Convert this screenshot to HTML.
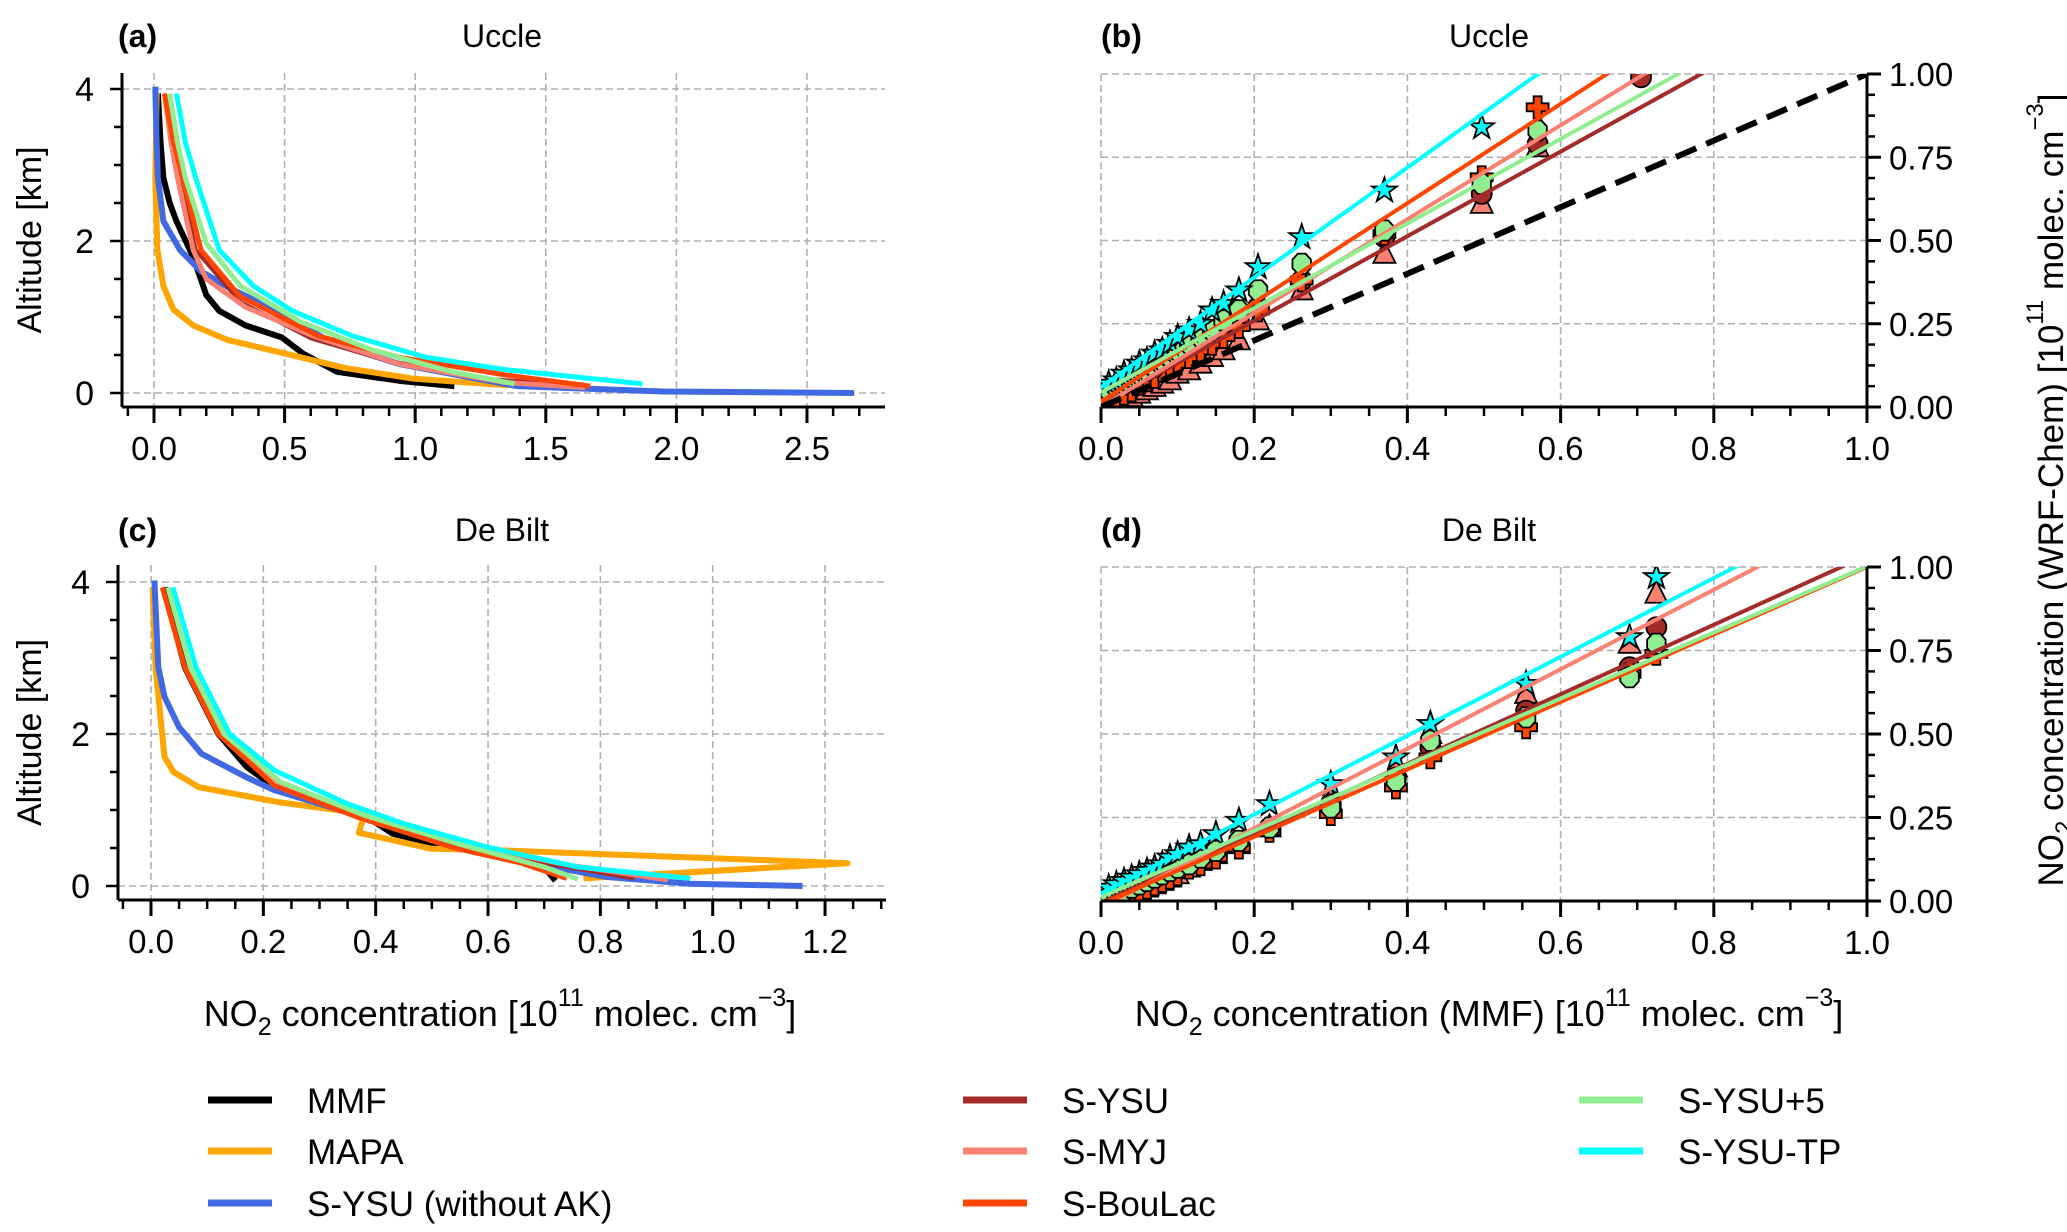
<!DOCTYPE html>
<html><head><meta charset="utf-8">
<style>
html,body{margin:0;padding:0;background:#fff;}
svg{display:block;}
text{font-family:"Liberation Sans",sans-serif;fill:#000;}
.reg{font-family:"Liberation Sans",sans-serif;}
</style></head>
<body>
<svg id="fig" width="2067" height="1232" viewBox="0 0 2067 1232" xmlns="http://www.w3.org/2000/svg">
<defs>
<clipPath id="clipB"><rect x="1101" y="74" width="766" height="333"/></clipPath>
<clipPath id="clipD"><rect x="1101" y="567" width="766" height="334"/></clipPath>
</defs>
<g id="layer"></g>
</svg>
<script>
// ---------- DATA ----------
const seriesNames = ["MMF","MAPA","S-YSU (without AK)","S-YSU","S-MYJ","S-BouLac","S-YSU+5","S-YSU-TP"];
const seriesColors = ["#000000","#ffa500","#4169e1","#a52a2a","#fa8072","#ff4500","#90ee90","#00ffff"];
// Panel (a) Uccle profiles: [value, altitude]
const uccleMMF = [[0.015,3.94],[0.025,3.3],[0.036,2.83],[0.06,2.5],[0.086,2.26],[0.15,1.79],[0.2,1.29],[0.25,1.08],[0.35,0.89],[0.49,0.73],[0.57,0.52],[0.7,0.28],[0.94,0.16],[1.15,0.09]];
const uccleMAPA = [[0.01,3.94],[0.005,2.83],[0.013,1.88],[0.036,1.41],[0.074,1.1],[0.15,0.89],[0.28,0.7],[0.5,0.52],[0.73,0.33],[0.99,0.19],[1.36,0.1]];
const uccleNoAK = [[0.005,4.03],[0.01,3.3],[0.015,2.83],[0.036,2.26],[0.1,1.88],[0.18,1.6],[0.3,1.36],[0.5,1.03],[0.68,0.66],[0.94,0.38],[1.39,0.09],[1.95,0.02],[2.68,0.0]];
const uccleYSU = [[0.04,3.94],[0.07,3.3],[0.1,2.83],[0.16,1.88],[0.33,1.2],[0.6,0.72],[0.9,0.42],[1.3,0.18],[1.62,0.1]];
const uccleMYJ = [[0.04,3.94],[0.065,3.3],[0.09,2.83],[0.15,1.88],[0.2,1.5],[0.35,1.13],[0.61,0.75],[0.94,0.38],[1.34,0.14],[1.65,0.07]];
const uccleBouLac = [[0.04,3.94],[0.075,3.3],[0.11,2.83],[0.18,1.88],[0.33,1.27],[0.63,0.75],[0.94,0.47],[1.34,0.24],[1.67,0.09]];
const uccleYSU5 = [[0.06,3.94],[0.09,3.3],[0.12,2.83],[0.2,1.97],[0.33,1.41],[0.56,0.94],[0.84,0.56],[1.14,0.28],[1.38,0.12]];
const uccleTP = [[0.086,3.94],[0.12,3.3],[0.16,2.83],[0.25,1.88],[0.38,1.41],[0.53,1.08],[0.76,0.75],[1.04,0.47],[1.34,0.31],[1.87,0.12]];
// Panel (c) De Bilt profiles
const debiltMMF = [[0.024,3.93],[0.06,2.88],[0.12,2.0],[0.17,1.57],[0.22,1.3],[0.31,1.08],[0.38,0.93],[0.43,0.69],[0.5,0.56],[0.6,0.43],[0.69,0.34],[0.72,0.07]];
const debiltMAPA = [[0.003,3.93],[0.008,2.88],[0.024,1.7],[0.04,1.5],[0.085,1.3],[0.23,1.1],[0.38,0.95],[0.37,0.7],[0.5,0.49],[0.62,0.47],[1.24,0.3],[0.77,0.1]];
const debiltNoAK = [[0.006,4.02],[0.013,2.88],[0.024,2.49],[0.05,2.09],[0.09,1.74],[0.17,1.43],[0.22,1.26],[0.35,0.97],[0.5,0.64],[0.65,0.34],[0.81,0.12],[0.96,0.03],[1.16,0.0]];
const debiltYSU = [[0.03,3.93],[0.07,2.88],[0.13,2.0],[0.23,1.35],[0.38,0.92],[0.55,0.55],[0.7,0.3],[0.86,0.1]];
const debiltMYJ = [[0.03,3.93],[0.07,2.88],[0.13,2.0],[0.23,1.35],[0.38,0.93],[0.56,0.55],[0.74,0.28],[0.92,0.08]];
const debiltBouLac = [[0.02,3.93],[0.06,2.88],[0.12,2.0],[0.22,1.32],[0.37,0.9],[0.54,0.5],[0.66,0.3],[0.74,0.1]];
const debiltYSU5 = [[0.03,3.93],[0.07,2.88],[0.13,2.0],[0.23,1.37],[0.38,0.93],[0.55,0.55],[0.7,0.25],[0.76,0.09]];
const debiltTP = [[0.039,3.93],[0.08,2.88],[0.14,2.0],[0.22,1.52],[0.35,1.08],[0.45,0.82],[0.6,0.51],[0.76,0.25],[0.96,0.1]];
// Panel (b) Uccle scatter
const uccleX = [0.01,0.02,0.03,0.04,0.05,0.06,0.07,0.08,0.09,0.1,0.115,0.13,0.145,0.16,0.18,0.205,0.262,0.37,0.497,0.57,0.705];
const uccleScYSU = [0.02,0.03,0.05,0.06,0.08,0.09,0.1,0.12,0.13,0.15,0.17,0.19,0.21,0.23,0.26,0.3,0.38,0.51,0.64,0.79,0.99];
const uccleScMYJ = [0.0,0.01,0.02,0.03,0.04,0.05,0.06,0.07,0.08,0.1,0.11,0.13,0.15,0.17,0.2,0.26,0.35,0.46,0.61,0.78,null];
const uccleScBouLac = [0.02,0.03,0.04,0.05,0.07,0.08,0.09,0.11,0.12,0.13,0.15,0.17,0.19,0.21,0.24,0.29,0.38,0.52,0.69,0.9,null];
const uccleScYSU5 = [0.05,0.06,0.07,0.09,0.1,0.11,0.12,0.14,0.15,0.17,0.19,0.21,0.23,0.26,0.29,0.35,0.43,0.53,0.67,0.83,null];
const uccleScTP = [0.07,0.08,0.1,0.11,0.13,0.14,0.16,0.17,0.19,0.21,0.23,0.25,0.29,0.31,0.35,0.42,0.51,0.65,0.84,null,null];
const uccleSlope = [1.27,1.41,1.49,1.27,1.65];
const uccleIntercept = [0.005,0.0,0.016,0.043,0.059];
// Panel (d) De Bilt scatter
const debiltX = [0.01,0.02,0.03,0.04,0.05,0.06,0.07,0.08,0.09,0.1,0.115,0.13,0.15,0.18,0.22,0.30,0.385,0.43,0.555,0.69,0.725];
const debiltScYSU = [0.01,0.02,0.03,0.04,0.05,0.06,0.07,0.08,0.09,0.1,0.12,0.13,0.15,0.18,0.22,0.29,0.37,0.46,0.57,0.7,0.82];
const debiltScMYJ = [0.0,0.0,0.01,0.02,0.03,0.04,0.05,0.06,0.07,0.08,0.1,0.12,0.14,0.17,0.22,0.3,0.4,0.5,0.62,0.77,0.92];
const debiltScBouLac = [0.0,0.0,0.01,0.02,0.03,0.04,0.05,0.06,0.07,0.08,0.1,0.11,0.13,0.16,0.21,0.26,0.34,0.43,0.52,0.68,0.74];
const debiltScYSU5 = [0.01,0.02,0.03,0.04,0.05,0.06,0.07,0.08,0.09,0.1,0.11,0.13,0.15,0.18,0.22,0.28,0.36,0.48,0.55,0.67,0.77];
const debiltScTP = [0.04,0.05,0.06,0.07,0.08,0.09,0.1,0.11,0.13,0.14,0.16,0.17,0.2,0.24,0.29,0.35,0.43,0.53,0.65,0.79,0.97];
const debiltSlope = [1.04,1.19,1.01,0.99,1.18];
const debiltIntercept = [-0.005,-0.02,-0.01,0.012,0.023];
const xTicksA = [0,0.5,1.0,1.5,2.0,2.5];
const xTicksC = [0,0.2,0.4,0.6,0.8,1.0,1.2];
const yTicksAlt = [0,2,4];
const xTicksScatter = [0,0.2,0.4,0.6,0.8,1.0];
const yTicksScatter = [0,0.25,0.5,0.75,1.0];

// ---------- HELPERS ----------
const NS="http://www.w3.org/2000/svg";
const layer=document.getElementById('layer');
function mk(tag,attrs,parent){const e=document.createElementNS(NS,tag);for(const k in attrs)e.setAttribute(k,attrs[k]);(parent||layer).appendChild(e);return e;}
function txt(x,y,s,size,anchor,cls,parent){const t=mk('text',{x:x,y:y,'font-size':size,'text-anchor':anchor||'middle'},parent);if(cls)t.setAttribute('class',cls);t.textContent=s;return t;}
const GRID={stroke:'#b0b0b0','stroke-width':1.6,'stroke-dasharray':'7,4'};

// ---------- PROFILE PANELS ----------
function profilePanel(id,cfg,ticks,minorStep,profiles){
  const g=mk('g',{});
  
  
  const xs=v=>cfg.x0+v*cfg.kx, ys=v=>cfg.y0-v*cfg.ky;
  ticks.forEach(t=>{const l=mk('line',Object.assign({x1:xs(t),x2:xs(t),y1:cfg.top,y2:cfg.bottom},GRID),g);});
  yTicksAlt.forEach(t=>{const l=mk('line',Object.assign({x1:cfg.left,x2:cfg.right,y1:ys(t),y2:ys(t)},GRID),g);});
  profiles.forEach((p,i)=>{
    const pl=mk('polyline',{points:p.map(d=>xs(d[0])+','+ys(d[1])).join(' '),fill:'none',stroke:seriesColors[i],'stroke-width':i<3?6:(i==3?4:5),'stroke-linejoin':'round'},g);
    
    
  });
  const sp1=mk('line',{x1:cfg.left,x2:cfg.left,y1:cfg.top,y2:cfg.bottom,stroke:'#000','stroke-width':3},g);
  
  const sp2=mk('line',{x1:cfg.left,x2:cfg.right,y1:cfg.bottom,y2:cfg.bottom,stroke:'#000','stroke-width':3},g);
  
  const vmin=(cfg.left-cfg.x0)/cfg.kx, vmax=(cfg.right-cfg.x0)/cfg.kx;
  for(let v=Math.ceil(vmin/minorStep-1e-6)*minorStep; v<=vmax+1e-6; v+=minorStep){
    mk('line',{x1:xs(v),x2:xs(v),y1:cfg.bottom,y2:cfg.bottom+9,stroke:'#000','stroke-width':2.5},g);
  }
  ticks.forEach(t=>{mk('line',{x1:xs(t),x2:xs(t),y1:cfg.bottom,y2:cfg.bottom+16,stroke:'#000','stroke-width':3},g);
    const l=txt(xs(t),cfg.bottom+53,t.toFixed(1),33,'middle',null,g);});
  for(let v=0; v<=4.0001; v+=0.5){mk('line',{x1:cfg.left-(v%2==0?12:8),x2:cfg.left,y1:ys(v),y2:ys(v),stroke:'#000','stroke-width':2.5},g);}
  yTicksAlt.forEach(t=>{const l=txt(cfg.left-28,ys(t)+12,String(t),34,'end',null,g);});
  const yl=txt(0,0,'Altitude [km]',34,'middle','reg',g);
  yl.setAttribute('transform','translate(41,'+((cfg.top+cfg.bottom)/2)+') rotate(-90)');
  
}
profilePanel('panel-a-uccle-profiles',{x0:154,kx:261.2,y0:393,ky:76,left:122,right:885,top:73,bottom:407},xTicksA,0.1,
  [uccleMMF,uccleMAPA,uccleNoAK,uccleYSU,uccleMYJ,uccleBouLac,uccleYSU5,uccleTP]);
profilePanel('panel-c-debilt-profiles',{x0:151,kx:561.7,y0:886,ky:76,left:118,right:886,top:565,bottom:900},xTicksC,0.05,
  [debiltMMF,debiltMAPA,debiltNoAK,debiltYSU,debiltMYJ,debiltBouLac,debiltYSU5,debiltTP]);

// ---------- SCATTER PANELS ----------
function marker(g,type,cx,cy,color){
  let e;
  if(type==='circle'){e=mk('circle',{cx:cx,cy:cy,r:10},g);}
  else if(type==='tri'){e=mk('polygon',{points:`${cx},${cy-13} ${cx+11},${cy+9} ${cx-11},${cy+9}`},g);}
  else if(type==='plus'){const a=4,b=11;e=mk('polygon',{points:`${cx-a},${cy-b} ${cx+a},${cy-b} ${cx+a},${cy-a} ${cx+b},${cy-a} ${cx+b},${cy+a} ${cx+a},${cy+a} ${cx+a},${cy+b} ${cx-a},${cy+b} ${cx-a},${cy+a} ${cx-b},${cy+a} ${cx-b},${cy-a} ${cx-a},${cy-a}`},g);}
  else if(type==='oct'){let p=[];for(let k=0;k<8;k++){const an=Math.PI/8+k*Math.PI/4;p.push((cx+10*Math.cos(an))+','+(cy+11*Math.sin(an)));}e=mk('polygon',{points:p.join(' ')},g);}
  else {let p=[];for(let k=0;k<10;k++){const r=k%2?5:13;const an=-Math.PI/2+k*Math.PI/5;p.push((cx+r*Math.cos(an))+','+(cy+r*Math.sin(an)));}e=mk('polygon',{points:p.join(' ')},g);}
  e.setAttribute('fill',color);e.setAttribute('stroke','#000');e.setAttribute('stroke-width',1.8);
  return e;
}
function scatterPanel(id,cfg,X,series,slopes,ints,clip,dashed){
  const g=mk('g',{});
  
  
  const xs=v=>cfg.x0+v*cfg.kx, ys=v=>cfg.y0-v*cfg.ky;
  xTicksScatter.forEach(t=>{if(t<1){const l=mk('line',Object.assign({x1:xs(t),x2:xs(t),y1:ys(1),y2:cfg.y0},GRID),g);}});
  yTicksScatter.forEach(t=>{if(t>0){const l=mk('line',Object.assign({x1:xs(0),x2:xs(1),y1:ys(t),y2:ys(t)},GRID),g);}});
  const cg=mk('g',{'clip-path':'url(#'+clip+')'},g);
  const types=['circle','tri','plus','oct','star'];
  const cols=[seriesColors[3],seriesColors[4],seriesColors[5],seriesColors[6],seriesColors[7]];
  [1,0,2,3,4].forEach(s=>{
    series[s].forEach((v,i)=>{ if(v===null)return; const m=marker(cg,types[s],xs(X[i]),ys(v),cols[s]);
      
      });
  });
  slopes.forEach((s,i)=>{const l=mk('line',{x1:xs(0),y1:ys(ints[i]),x2:xs(1),y2:ys(ints[i]+s),stroke:cols[i],'stroke-width':4},cg);
    });
  if(dashed){const l=mk('line',{x1:xs(0),y1:ys(0),x2:xs(1),y2:ys(1),stroke:'#000','stroke-width':6,'stroke-dasharray':'22,11'},cg);
    }
  const sp1=mk('line',{x1:xs(0),x2:xs(1)+1.5,y1:cfg.y0,y2:cfg.y0,stroke:'#000','stroke-width':3},g);
  
  const sp2=mk('line',{x1:xs(1),x2:xs(1),y1:ys(1),y2:cfg.y0,stroke:'#000','stroke-width':3},g);
  
  for(let k=0;k<=20;k++){const v=k*0.05;mk('line',{x1:xs(v),x2:xs(v),y1:cfg.y0,y2:cfg.y0+(k%4==0?16:9),stroke:'#000','stroke-width':k%4==0?3:2.5},g);}
  for(let k=0;k<=16;k++){const v=k/16;mk('line',{x1:xs(1),x2:xs(1)+(k%4==0?14:8),y1:ys(v),y2:ys(v),stroke:'#000','stroke-width':k%4==0?3:2.5},g);}
  xTicksScatter.forEach(t=>{const l=txt(xs(t),cfg.y0+53,t.toFixed(1),33,'middle',null,g);});
  yTicksScatter.forEach(t=>{const l=txt(xs(1)+22,ys(t)+12,t.toFixed(2),33,'start',null,g);});
}
scatterPanel('panel-b-uccle-scatter',{x0:1101,kx:766,y0:407,ky:333},uccleX,[uccleScYSU,uccleScMYJ,uccleScBouLac,uccleScYSU5,uccleScTP],uccleSlope,uccleIntercept,'clipB',true);
scatterPanel('panel-d-debilt-scatter',{x0:1101,kx:766,y0:901,ky:334},debiltX,[debiltScYSU,debiltScMYJ,debiltScBouLac,debiltScYSU5,debiltScTP],debiltSlope,debiltIntercept,'clipD',false);

// ---------- LEGEND ----------
const legendCols=[[0,1,2],[3,4,5],[6,7]];
const legendX=[208,963,1579];
const legendY=[1100,1151,1203];
legendCols.forEach((col,c)=>col.forEach((si,r)=>{
  const g=mk('g',{});
  
  
  mk('line',{x1:legendX[c],x2:legendX[c]+64,y1:legendY[r],y2:legendY[r],stroke:seriesColors[si],'stroke-width':7},g);
  txt(legendX[c]+99,legendY[r]+13,seriesNames[si],35,'start',null,g);
}));
</script>
<div style="position:absolute;left:0;top:0;width:2067px;height:1232px;pointer-events:none">
<svg width="2067" height="1232" style="position:absolute;left:0;top:0">
<style>text{font-family:"Liberation Sans",sans-serif;}</style>
<text x="118" y="47" font-size="32" font-weight="bold">(a)</text>
<text x="502" y="47" font-size="32" text-anchor="middle">Uccle</text>
<text x="1101" y="47" font-size="32" font-weight="bold">(b)</text>
<text x="1489" y="47" font-size="32" text-anchor="middle">Uccle</text>
<text x="118" y="541" font-size="32" font-weight="bold">(c)</text>
<text x="502" y="541" font-size="32" text-anchor="middle">De Bilt</text>
<text x="1101" y="541" font-size="32" font-weight="bold">(d)</text>
<text x="1489" y="541" font-size="32" text-anchor="middle">De Bilt</text>
<text x="500" y="1026" font-size="36" text-anchor="middle">NO<tspan font-size="25" dy="9">2</tspan><tspan dy="-9"> concentration [10</tspan><tspan font-size="25" dy="-20">11</tspan><tspan dy="20"> molec. cm</tspan><tspan font-size="25" dy="-20">−3</tspan><tspan dy="20">]</tspan></text>
<text x="1489" y="1026" font-size="36" text-anchor="middle">NO<tspan font-size="25" dy="9">2</tspan><tspan dy="-9"> concentration (MMF) [10</tspan><tspan font-size="25" dy="-20">11</tspan><tspan dy="20"> molec. cm</tspan><tspan font-size="25" dy="-20">−3</tspan><tspan dy="20">]</tspan></text>
<text transform="translate(2063,490) rotate(-90)" font-size="35" text-anchor="middle">NO<tspan font-size="24" dy="9">2</tspan><tspan dy="-9"> concentration (WRF-Chem) [10</tspan><tspan font-size="24" dy="-20">11</tspan><tspan dy="20"> molec. cm</tspan><tspan font-size="24" dy="-20">−3</tspan><tspan dy="20">]</tspan></text>
</svg>
</div>
</body></html>
